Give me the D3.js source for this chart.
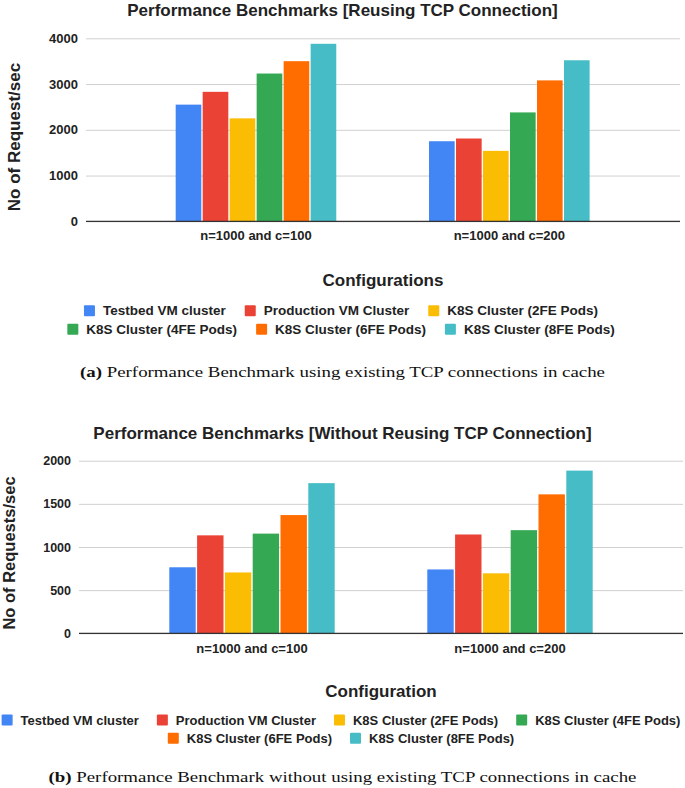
<!DOCTYPE html>
<html>
<head>
<meta charset="utf-8">
<script src="https://cdn.jsdelivr.net/npm/d3@7"></script>
<style>
  html, body { margin: 0; padding: 0; background: #fff; }
  svg { display: block; }
</style>
</head>
<body>
<svg id="chart" width="685" height="788"></svg>
<script>
// ---- Data ----
const categories = ["n=1000 and c=100", "n=1000 and c=200"];
const seriesNames = [
  "Testbed VM cluster",
  "Production VM Cluster",
  "K8S Cluster (2FE Pods)",
  "K8S Cluster (4FE Pods)",
  "K8S Cluster (6FE Pods)",
  "K8S Cluster (8FE Pods)"
];
const seriesColors = ["#4285F4", "#EA4335", "#FBBC04", "#34A853", "#FF6D01", "#46BDC6"];

// Chart (a): Reusing TCP connection, values per series for [c=100, c=200]
const reuseValues = [
  [2550, 1750],
  [2830, 1810],
  [2250, 1540],
  [3230, 2380],
  [3500, 3080],
  [3880, 3520]
];
const reuseTicks = [0, 1000, 2000, 3000, 4000];

// Chart (b): Without reusing TCP connection
const noReuseValues = [
  [765, 740],
  [1135, 1145],
  [705, 695],
  [1155, 1195],
  [1370, 1610],
  [1740, 1885]
];
const noReuseTicks = [0, 500, 1000, 1500, 2000];

const svg = d3.select("#chart");
const SANS = "'Liberation Sans', Arial, sans-serif";
const SERIF = "'Liberation Serif', 'Times New Roman', serif";

function drawChart(cfg) {
  const g = svg.append("g");
  const y = d3.scaleLinear().domain([0, cfg.ticks[cfg.ticks.length - 1]]).range([cfg.y0, cfg.yTop]);
  const x0 = d3.scaleBand().domain(categories).range(cfg.bandRange).padding(0);
  const x1 = d3.scaleBand().domain(seriesNames).range([0, cfg.groupW]).paddingInner(0.05);
  const groupOffset = (x0.bandwidth() - cfg.groupW) / 2;

  // title
  g.append("text").attr("x", 342.5).attr("y", cfg.titleY)
    .attr("text-anchor", "middle").attr("font-family", SANS).attr("font-weight", "bold")
    .attr("font-size", cfg.titleSize).attr("fill", "#222").text(cfg.title);

  // gridlines
  const yAxis = d3.axisLeft(y).tickValues(cfg.ticks).tickFormat(d3.format("d"))
    .tickSize(-(cfg.plotRight - cfg.plotLeft)).tickPadding(cfg.tickPad);
  const ag = g.append("g").attr("transform", `translate(${cfg.plotLeft},0)`).call(yAxis);
  ag.select(".domain").remove();
  ag.selectAll(".tick line").attr("stroke", "#d0d0d0").attr("stroke-width", 1);
  ag.selectAll(".tick text").attr("font-family", SANS).attr("font-weight", "bold")
    .attr("font-size", cfg.tickSize).attr("fill", "#222");

  // bars
  const groups = g.append("g").selectAll("g").data(categories).join("g")
    .attr("transform", c => `translate(${x0(c) + groupOffset},0)`);
  groups.selectAll("rect").data((c, ci) => seriesNames.map((s, si) => ({ s, si, v: cfg.values[si][ci] })))
    .join("rect")
    .attr("x", d => x1(d.s)).attr("width", x1.bandwidth())
    .attr("y", d => y(d.v)).attr("height", d => y(0) - y(d.v))
    .attr("fill", d => seriesColors[d.si]);

  // baseline
  g.append("line").attr("x1", cfg.plotLeft).attr("x2", cfg.plotRight)
    .attr("y1", y(0)).attr("y2", y(0)).attr("stroke", "#333").attr("stroke-width", 1.2);

  // category labels
  const xAxis = d3.axisBottom(x0).tickSize(0).tickPadding(0);
  const xg = g.append("g").attr("transform", `translate(0,${cfg.catY})`).call(xAxis);
  xg.select(".domain").remove();
  xg.selectAll(".tick text").attr("dy", 0).attr("font-family", SANS).attr("font-weight", "bold")
    .attr("font-size", cfg.catSize).attr("fill", "#222");

  // y label
  g.append("text").attr("transform", `translate(${cfg.yLabelX},${cfg.yLabelY}) rotate(-90)`)
    .attr("text-anchor", "middle").attr("dominant-baseline", "central")
    .attr("font-family", SANS).attr("font-weight", "bold").attr("font-size", cfg.yLabelSize)
    .attr("fill", "#222").text(cfg.yLabel);

  // x title
  g.append("text").attr("x", (cfg.plotLeft + cfg.plotRight) / 2).attr("y", cfg.xTitleY)
    .attr("text-anchor", "middle").attr("font-family", SANS).attr("font-weight", "bold")
    .attr("font-size", 17).attr("fill", "#222").text(cfg.xTitle);

  // legend
  cfg.legendRows.forEach((row, ri) => {
    const lg = g.append("g");
    let cx = 0;
    row.forEach((si, k) => {
      const it = lg.append("g").attr("transform", `translate(${cx},0)`);
      it.append("rect").attr("x", 0).attr("y", -5.5).attr("width", 11).attr("height", 11)
        .attr("rx", 1).attr("fill", seriesColors[si]);
      const t = it.append("text").attr("x", 19).attr("y", 0).attr("dominant-baseline", "central")
        .attr("font-family", SANS).attr("font-weight", "bold").attr("font-size", cfg.legendSize)
        .attr("fill", "#222").text(seriesNames[si]);
      cx += 19 + t.node().getComputedTextLength() + cfg.legendGap;
    });
    const total = cx - cfg.legendGap;
    lg.attr("transform", `translate(${cfg.legendCenter - total / 2},${cfg.legendY[ri]})`);
  });

  // caption
  const cap = g.append("text").attr("x", 342.5).attr("y", cfg.capY).attr("text-anchor", "middle")
    .attr("font-family", SERIF).attr("font-size", 15).attr("fill", "#111")
    .attr("textLength", cfg.capW).attr("lengthAdjust", "spacingAndGlyphs");
  cap.append("tspan").attr("font-weight", "bold").text(cfg.capLabel);
  cap.append("tspan").text(" " + cfg.caption);
}

drawChart({
  title: "Performance Benchmarks [Reusing TCP Connection]", titleY: 16, titleSize: 17,
  values: reuseValues, ticks: reuseTicks,
  y0: 221.3, yTop: 38.3, plotLeft: 86, plotRight: 680, tickPad: 8, tickSize: 13,
  bandRange: [129.3, 636], groupW: 160.6,
  catY: 240, catSize: 13,
  yLabel: "No of Request/sec", yLabelX: 14, yLabelY: 137, yLabelSize: 17,
  xTitle: "Configurations", xTitleY: 286,
  legendRows: [[0, 1, 2], [3, 4, 5]], legendY: [310.7, 329.3], legendSize: 13.5, legendGap: 19, legendCenter: 341,
  capLabel: "(a)", caption: "Performance Benchmark using existing TCP connections in cache", capY: 377, capW: 525
});

drawChart({
  title: "Performance Benchmarks [Without Reusing TCP Connection]", titleY: 439, titleSize: 17,
  values: noReuseValues, ticks: noReuseTicks,
  y0: 633.3, yTop: 460.7, plotLeft: 79, plotRight: 683, tickPad: 8, tickSize: 12.5,
  bandRange: [123, 639], groupW: 165.4,
  catY: 653, catSize: 13,
  yLabel: "No of Requests/sec", yLabelX: 9, yLabelY: 553, yLabelSize: 16.5,
  xTitle: "Configuration", xTitleY: 697,
  legendRows: [[0, 1, 2, 3], [4, 5]], legendY: [720, 738.3], legendSize: 13, legendGap: 18, legendCenter: 341,
  capLabel: "(b)", caption: "Performance Benchmark without using existing TCP connections in cache", capY: 782, capW: 588
});
</script>
</body>
</html>
